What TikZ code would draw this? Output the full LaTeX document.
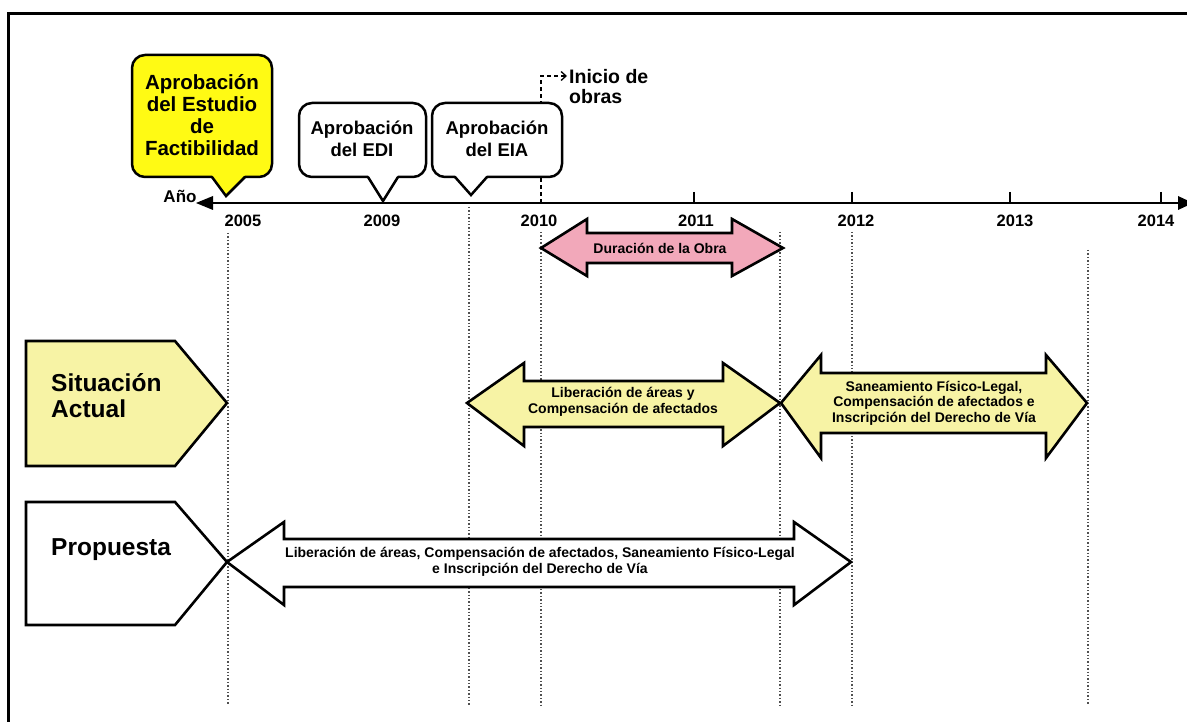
\documentclass[tikz,border=0pt]{standalone}
\usepackage{fontspec}
\setmainfont{Liberation Sans}
\usetikzlibrary{arrows.meta}
\definecolor{brightyel}{RGB}{255,250,20}
\definecolor{paleyel}{RGB}{247,243,165}
\definecolor{pinkfill}{RGB}{242,168,186}
\definecolor{guide}{RGB}{80,80,80}
\begin{document}
\begin{tikzpicture}[x=1pt,y=-1pt,
  frameline/.style={line width=3pt},
  calloutbox/.style={line width=2.5pt, rounded corners=13pt},
  pointerline/.style={line width=2.5pt, line join=miter},
  shapeline/.style={line width=2.6pt, line join=miter},
  guideline/.style={guide, line width=1.4pt, dotted},
  yeartxt/.style={font=\fontsize{16.5}{18}\selectfont\bfseries, inner sep=0pt},
  calltxtY/.style={align=center, font=\fontsize{20.5}{22}\selectfont\bfseries, inner sep=0pt},
  calltxtW/.style={align=center, font=\fontsize{18.5}{22}\selectfont\bfseries, inner sep=0pt},
  rowtxt/.style={align=left, anchor=west, font=\fontsize{24.5}{26}\selectfont\bfseries, inner sep=0pt},
  arrtxt/.style={align=center, font=\fontsize{14}{15.5}\selectfont\bfseries, inner sep=1.5pt}
]
\useasboundingbox (0,0) rectangle (1187,722);
\clip (0,0) rectangle (1187,722);

% frame
\draw[frameline] (8,725) -- (8,14) -- (1192,14);

% dotted guides
\foreach \gx/\gy in {228/233,469/207,541/232,780/232,852/232,1088/250}
  \draw[guideline] (\gx,\gy) -- (\gx,705);

% dashed "Inicio de obras" marker
\coordinate (d0) at (541,203);
\coordinate (d1) at (541,76);
\coordinate (d2) at (567,76);
\draw[line width=1.3pt, dash pattern=on 4pt off 3pt, -{Straight Barb[length=5pt,width=9pt]}] (d0) -- (d1) -- (d2);

% callouts
\filldraw[calloutbox, fill=brightyel] (132,55) rectangle (272,177);
\fill[brightyel] (212,175) -- (226,196) -- (245,175) -- cycle;
\draw[pointerline] (212,177) -- (226,196) -- (245,177);

\filldraw[calloutbox, fill=white] (299,103) rectangle (426,177);
\fill[white] (368,175) -- (383,201) -- (398,175) -- cycle;
\draw[pointerline] (368,177) -- (383,201) -- (398,177);

\filldraw[calloutbox, fill=white] (432,103) rectangle (562,177);
\fill[white] (455,175) -- (471,195) -- (487,175) -- cycle;
\draw[pointerline] (455,177) -- (471,195) -- (487,177);

\node[calltxtY] (fact) at (202,115) {Aprobación\\del Estudio\\de\\Factibilidad};
\node[calltxtW] (edi) at (362,139) {Aprobación\\del EDI};
\node[calltxtW] (eia) at (497,139) {Aprobación\\del EIA};
\node[align=left, anchor=west, font=\fontsize{19.5}{20}\selectfont\bfseries, inner sep=0pt] (inicio) at (569,87) {Inicio de\\obras};

% axis
\draw[line width=2.5pt] (208,203) -- (1182,203);
\fill (196,203) -- (213,196) -- (213,210) -- cycle;
\fill (1193,203) -- (1178,196) -- (1178,210) -- cycle;
\foreach \tx in {694,852,1010,1161}
  \draw[line width=2pt] (\tx,192) -- (\tx,203);

\node[font=\fontsize{17}{18}\selectfont\bfseries, inner sep=0pt] (ano) at (180,196) {Año};
\node[yeartxt] (y2005) at (243,221) {2005};
\node[yeartxt] (y2009) at (382,221) {2009};
\node[yeartxt] (y2010) at (539,221) {2010};
\node[yeartxt] (y2011) at (696,221) {2011};
\node[yeartxt] (y2012) at (856,221) {2012};
\node[yeartxt] (y2013) at (1015,221) {2013};
\node[yeartxt] (y2014) at (1156,221) {2014};

% pink arrow
\filldraw[shapeline, fill=pinkfill] (541,248) -- (587,219) -- (587,233) -- (732,233) -- (732,219) -- (783,248) -- (732,276) -- (732,263) -- (587,263) -- (587,276) -- cycle;
\node[arrtxt, fill=pinkfill] (obra) at (660,248) {Duración de la Obra};

% Situacion Actual row
\filldraw[shapeline, fill=paleyel] (26,341) -- (175,341) -- (227,403) -- (175,466) -- (26,466) -- cycle;
\node[rowtxt] (sit) at (51,396) {Situación\\Actual};

\filldraw[shapeline, fill=paleyel] (467,403) -- (524,363) -- (524,381) -- (723,381) -- (723,363) -- (780,403) -- (723,446) -- (723,427) -- (524,427) -- (524,446) -- cycle;
\node[arrtxt, fill=paleyel] (lib) at (623,402) {Liberación de áreas y\\Compensación de afectados};

\filldraw[shapeline, fill=paleyel] (781,403) -- (821,355) -- (821,373) -- (1046,373) -- (1046,355) -- (1087,403) -- (1046,458) -- (1046,433) -- (821,433) -- (821,458) -- cycle;
\node[arrtxt, fill=paleyel] (san) at (934,403) {Saneamiento Físico-Legal,\\Compensación de afectados e\\Inscripción del Derecho de Vía};

% Propuesta row
\filldraw[shapeline, fill=white] (26,502) -- (175,502) -- (227,562) -- (175,625) -- (26,625) -- cycle;
\node[rowtxt] (prop) at (51,550) {Propuesta};

\filldraw[shapeline, fill=white] (227,562) -- (284,522) -- (284,539) -- (794,539) -- (794,522) -- (851,562) -- (794,605) -- (794,587) -- (284,587) -- (284,605) -- cycle;
\node[arrtxt, fill=white] (propt) at (540,562) {Liberación de áreas, Compensación de afectados, Saneamiento Físico-Legal\\e Inscripción del Derecho de Vía};
\end{tikzpicture}
\end{document}
